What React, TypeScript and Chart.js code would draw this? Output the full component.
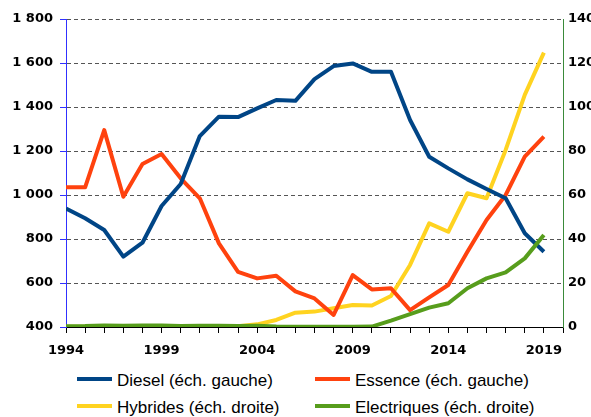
import React, { useEffect, useRef, useState } from 'react';
import { Chart, registerables } from 'chart.js';

Chart.register(...registerables);

const years = [1994, 1995, 1996, 1997, 1998, 1999, 2000, 2001, 2002, 2003, 2004, 2005, 2006, 2007, 2008, 2009, 2010, 2011, 2012, 2013, 2014, 2015, 2016, 2017, 2018, 2019];
const diesel = [939, 894, 841, 720, 783, 950, 1050, 1268, 1356, 1354, 1394, 1432, 1428, 1527, 1586, 1598, 1560, 1560, 1341, 1174, 1121, 1071, 1027, 985, 826, 742];
const essence = [1035, 1035, 1295, 992, 1141, 1186, 1076, 985, 780, 651, 621, 633, 562, 530, 455, 636, 571, 576, 477, 535, 591, 742, 886, 1000, 1174, 1265];
const hybrides = [0.1, 0.1, 0.2, 0.2, 0.2, 0.2, 0.2, 0.2, 0.2, 0.3, 1.2, 3.2, 6.5, 7, 8.5, 10, 9.8, 14.1, 28.2, 47.1, 43.3, 60.8, 58.5, 80.5, 105.5, 124.7];
const electriques = [0.3, 0.4, 0.7, 0.6, 0.7, 0.7, 0.5, 0.6, 0.6, 0.4, 0.6, 0.2, 0.1, 0.1, 0.1, 0.1, 0.2, 2.9, 5.9, 8.8, 10.8, 17.6, 22.1, 24.8, 31.2, 41.8];

const seriesNames = ['Diesel (éch. gauche)', 'Essence (éch. gauche)', 'Hybrides (éch. droite)', 'Electriques (éch. droite)'];
const seriesColors = ['#004586', '#ff420e', '#ffd320', '#579d1c'];

const xMin = 1994;
const xMax = 2020;
const leftMin = 400;
const leftMax = 1800;
const leftStep = 200;
const rightMin = 0;
const rightMax = 140;
const rightStep = 20;
const labelEvery = 5;

const fmt = (v: number) => String(v).replace(/\B(?=(\d{3})+(?!\d))/g, ' ');

const tickFont = { family: '"DejaVu Sans", sans-serif', weight: 'bold' as const, size: 13 };

const readback = {
  id: 'readback',
  beforeDatasetsDraw(c: any) {
    const ctx = c.ctx;
    ctx.getImageData(69, 63, 1, 1);
    ctx.getImageData(85, 330, 1, 1);
    ctx.getImageData(62, 63, 1, 1);
    ctx.getImageData(66, 100, 1, 1);
  },
  afterDraw(c: any) {
    const ctx = c.ctx;
    ctx.getImageData(69, 63, 1, 1);
    ctx.getImageData(85, 330, 1, 1);
    ctx.getImageData(62, 63, 1, 1);
    ctx.getImageData(66, 100, 1, 1);
  },
};

export default function App() {
  const ref = useRef<HTMLCanvasElement | null>(null);
  const [ready, setReady] = useState(false);

  useEffect(() => {
    const canvas = ref.current;
    if (!canvas) return;
    const toPts = (arr: number[]) => years.map((y, i) => ({ x: y, y: arr[i] }));
    const allData = [diesel, essence, hybrides, electriques];
    const axes = ['yL', 'yL', 'yR', 'yR'];
    const orders = [1, 2, 3, 0];
    const chart = new Chart(canvas, {
      type: 'line',
      plugins: [readback],
      data: {
        datasets: allData.map((d, i) => ({
          label: seriesNames[i],
          data: toPts(d),
          borderColor: seriesColors[i],
          backgroundColor: seriesColors[i],
          borderWidth: 4,
          pointRadius: 0,
          tension: 0,
          fill: false,
          yAxisID: axes[i],
          order: orders[i],
          borderJoinStyle: 'round' as const,
          borderCapStyle: 'butt' as const,
        })),
      },
      options: {
        responsive: false,
        animation: false,
        layout: { padding: { top: 19, left: 0, right: 0, bottom: 0 } },
        plugins: { legend: { display: false }, tooltip: { enabled: false } },
        scales: {
          x: {
            type: 'linear',
            min: xMin,
            max: xMax,
            afterFit: (s: any) => { s.height = 90; },
            ticks: {
              stepSize: 1,
              autoSkip: false,
              maxRotation: 0,
              color: '#000',
              font: tickFont,
              padding: 10,
              callback: (v: any) => ((Number(v) - xMin) % labelEvery === 0 && Number(v) < xMax ? String(v) : ''),
            },
            grid: { display: true, drawOnChartArea: false, drawTicks: true, tickLength: 6, color: '#000', tickColor: '#000', lineWidth: 1 },
            border: { color: '#000', width: 1 },
          },
          yL: {
            type: 'linear',
            position: 'left',
            min: leftMin,
            max: leftMax,
            afterFit: (s: any) => { s.width = 66; },
            ticks: { stepSize: leftStep, color: '#000', font: tickFont, padding: 7, callback: (v: any) => fmt(Number(v)) },
            grid: { display: true, drawOnChartArea: true, drawTicks: true, color: '#555', lineWidth: 1, tickLength: 6, tickColor: '#3030ff', tickBorderDash: [10, 0] },
            border: { color: '#3030ff', width: 1, dash: [4, 3] },
          },
          yR: {
            type: 'linear',
            position: 'right',
            min: rightMin,
            max: rightMax,
            afterFit: (s: any) => { s.width = 28; },
            ticks: { stepSize: rightStep, color: '#000', font: tickFont, padding: 5 },
            grid: { drawOnChartArea: false, drawTicks: false },
            border: { color: '#3a8a3a', width: 1 },
          },
        },
      },
    } as any);
    const t = setTimeout(() => {
      const ctx = canvas.getContext('2d');
      if (ctx) {
        ctx.getImageData(69, 63, 1, 1);
        ctx.getImageData(85, 330, 1, 1);
      }
      setReady(true);
    }, 50);
    return () => {
      clearTimeout(t);
      chart.destroy();
    };
  }, []);

  const legendPos = [
    { left: 77, top: 371 },
    { left: 315, top: 371 },
    { left: 77, top: 398 },
    { left: 315, top: 398 },
  ];

  return (
    <div style={{ position: 'fixed', left: 0, top: 0, width: 591, height: 417, overflow: 'hidden', background: '#fff' }}>
      <canvas ref={ref} width={591} height={417} style={{ position: 'absolute', left: 0, top: 0 }} />
      {ready && (
        <div style={{ position: 'absolute', left: 0, top: 364, width: 591, height: 53, background: '#fff' }}>
          {seriesNames.map((name, i) => (
            <div
              key={name}
              style={{
                position: 'absolute',
                left: legendPos[i].left,
                top: legendPos[i].top - 364,
                height: 20,
                lineHeight: '20px',
                fontFamily: '"Liberation Sans", Arial, sans-serif',
                fontSize: 17,
                color: '#000',
                whiteSpace: 'nowrap',
              }}
            >
              <span style={{ position: 'absolute', left: 0, top: 6, width: 35, height: 4, background: seriesColors[i] }} />
              <span style={{ position: 'absolute', left: 40, top: 0 }}>{name}</span>
            </div>
          ))}
        </div>
      )}
    </div>
  );
}
